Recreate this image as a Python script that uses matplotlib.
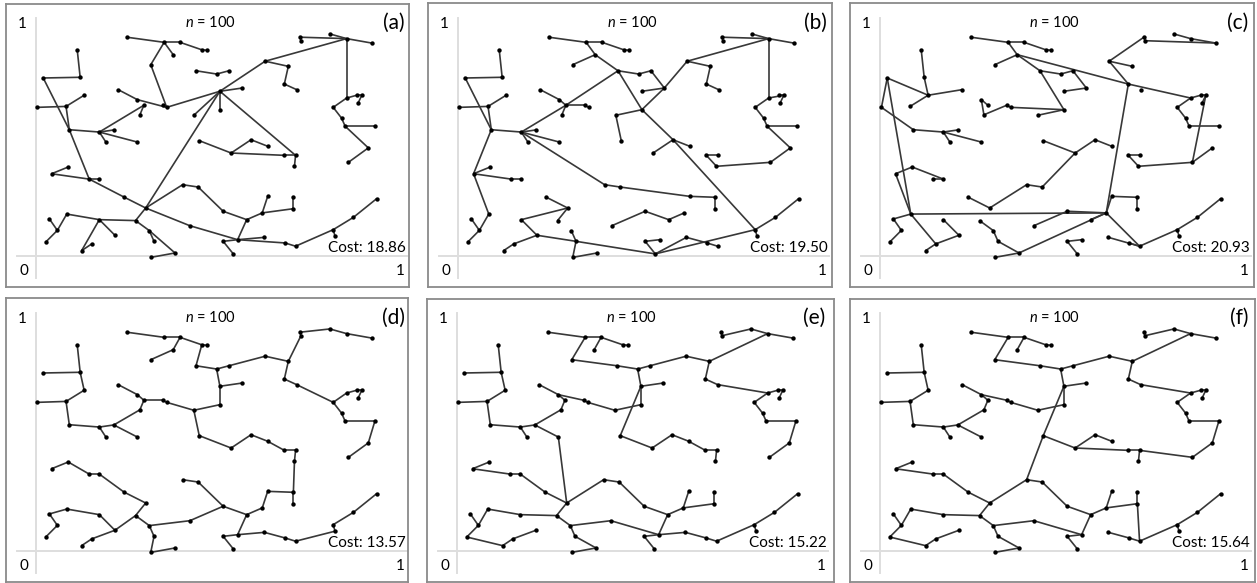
import matplotlib
matplotlib.use("Agg")
import matplotlib.pyplot as plt
from matplotlib.collections import LineCollection

plt.rcParams["font.family"] = ["Lato", "DejaVu Sans"]
plt.rcParams["mathtext.fontset"] = "custom"
plt.rcParams["mathtext.it"] = "Lato:italic"
plt.rcParams["mathtext.rm"] = "Lato"

# node positions in the unit square (same point set in every panel)
node_names = """P1 P2 P3 P4 P5 P6 P7 P8
Q1 Q2 Q3 Q4 Q5 Q6 Q7 Q8 Q9 Q10 Q11 Q12 Q13 Q14 Q15 Q16 Q17 Q18 Q19
R1 R2 R3 R4 R5 R6 R7 R8 R9 R10 R11 R12 R13 R14 R15 R16 R17 R18 R19 R20
S1 S2
T1 T2 T3 T4 T5 T6 T7 T8 T9 T10 T11 T12 T13 T14 T15 T16 T17 T18 T19 T20 T21
U1 U2 U3
V1 V2 V3 V4 V5 V6 V7 V8 V9 V10
W W2
X1 X2 X3 X4 X5 X6 X7 X8 X9 X10""".split()

node_x = [0.251, 0.354, 0.398, 0.458, 0.473, 0.379, 0.317, 0.442,
          0.114, 0.122, 0.020, 0.133, 0.083, 0.004, 0.092, 0.175, 0.193, 0.215, 0.280,
          0.287, 0.298, 0.280, 0.227, 0.350, 0.361, 0.436, 0.451,
          0.043, 0.089, 0.147, 0.175, 0.243, 0.303, 0.275, 0.218, 0.175, 0.085,
          0.037, 0.059, 0.027, 0.154, 0.126, 0.313, 0.425, 0.326, 0.317, 0.384,
          0.405, 0.448,
          0.499, 0.533, 0.633, 0.697, 0.732, 0.729, 0.812, 0.858, 0.927, 0.686,
          0.720, 0.821, 0.858, 0.886, 0.900, 0.890, 0.844, 0.854, 0.936, 0.918, 0.863,
          0.508, 0.570, 0.508,
          0.539, 0.594, 0.640, 0.686, 0.717, 0.714, 0.711, 0.711, 0.640, 0.625,
          0.517, 0.582,
          0.557, 0.631, 0.688, 0.717, 0.826, 0.821, 0.877, 0.941, 0.517, 0.545]

node_y = [0.939, 0.917, 0.917, 0.885, 0.883, 0.864, 0.821, 0.795,
          0.883, 0.767, 0.764, 0.690, 0.642, 0.638, 0.542, 0.532, 0.489, 0.541, 0.489,
          0.606, 0.647, 0.671, 0.714, 0.647, 0.638, 0.604, 0.495,
          0.353, 0.382, 0.330, 0.330, 0.253, 0.206, 0.152, 0.089, 0.156, 0.180,
          0.159, 0.110, 0.060, 0.052, 0.023, 0.109, 0.130, 0.063, -0.006, 0.013,
          0.306, 0.296,
          0.781, 0.795, 0.836, 0.814, 0.924, 0.939, 0.953, 0.933, 0.914, 0.738,
          0.714, 0.638, 0.678, 0.690, 0.690, 0.657, 0.592, 0.557, 0.557, 0.464, 0.402,
          0.707, 0.721, 0.628,
          0.442, 0.499, 0.471, 0.432, 0.432, 0.385, 0.252, 0.203, 0.256, 0.185,
          0.192, 0.156,
          0.070, 0.080, 0.056, 0.042, 0.085, 0.113, 0.166, 0.246, 0.063, 0.009]

panel_tags = ["(a)", "(b)", "(c)", "(d)", "(e)", "(f)"]
panel_costs = ["18.86", "19.50", "20.93", "13.57", "15.22", "15.64"]
n_points = 100

edges_a = """P1-P2 P2-P3 P3-P4 P4-P5 P2-P6 P2-P7 P7-Q17 Q15-Q14 Q14-Q17 Q16-Q17 Q17-U1
Q18-U1 Q1-Q2 Q2-Q3 Q3-Q7 Q7-R3 Q5-Q6 Q5-Q4 Q5-Q7 Q7-Q8 Q8-Q9 Q8-Q10 Q8-Q11 Q8-Q13
Q13-Q12 R1-R2 R1-R3 R3-R4 R3-R5 R5-R6 R6-R17 R17-X1 X1-X3 X3-X4 X4-X6 X6-X5 X6-X7
X7-X8 R6-U1 R6-S1 S1-S2 S2-W R10-R9 R9-R7 R7-R6 R9-R15 R15-R14 R9-R8 R10-R12 R12-R11
R12-R13 R7-R16 R16-R20 R20-R19 R16-R18 U1-U2 U1-U3 U1-T3 T3-T8 T3-T4 T4-T10 T10-T11
T8-T7 T8-T9 T8-T6 T6-T5 T8-T13 T13-T14 T14-T15 T15-T16 T13-T12 T12-T17 T17-T18
T18-T19 T18-T20 T20-T21 U1-V5 V5-V4 V4-V1 V1-V2 V2-V3 V5-V6 P8-T1 T1-T2 Q19-V1 W-W2
W2-V10 V10-V9 V10-V8 V8-V7 W2-X1 X1-X2 X1-X9 X9-X10""".split()

edges_b = """P1-P2 P2-P3 P3-P4 P4-P5 P2-P6 P6-P7 P6-P8 P8-Q13 P8-T1 Q13-Q14 Q14-Q15 Q13-Q16
Q16-Q17 Q13-Q12 Q13-Q8 Q8-Q10 Q8-Q9 Q8-Q11 Q8-Q7 Q8-S1 S1-S2 Q7-Q5 Q5-Q6 Q5-Q4 Q7-Q3
Q3-Q2 Q2-Q1 Q7-R1 R1-R2 R1-R3 R3-R4 R1-R10 R10-R12 R12-R11 R12-R13 R5-R6 R6-R7 R6-R9
R9-R8 R8-R14 R14-R15 R8-R18 R18-R16 R18-R19 R19-R20 R18-X10 Q18-Q19 Q18-U3 T1-T2
T2-U2 U2-U1 U3-U2 U2-T3 P8-U3 U3-V2 V2-X6 V2-V1 V2-V3 T3-T4 T4-T10 T10-T11 T3-T8
T8-T7 T8-T6 T6-T5 T8-T9 T8-T13 T13-T15 T15-T14 T15-T16 T13-T12 T12-T17 T17-T18
T18-T19 T18-T20 T20-T21 T21-V6 V6-V4 V4-V5 S2-V9 V9-V7 V7-V8 R17-W W-W2 W2-V10
X10-X9 X9-X1 X10-X2 X2-X3 X3-X4 X10-X6 X6-X5 X6-X7 X7-X8""".split()

edges_c = """P1-P2 P2-P3 P3-P4 P4-P5 P2-P6 P6-P7 P6-P8 P6-T10 T10-T13 P8-T1 T1-T2 T2-U2
U2-U1 P8-U3 Q18-U3 Q1-Q2 Q2-Q4 Q4-Q15 Q4-Q5 Q4-Q3 Q3-Q6 Q6-Q7 Q7-Q8 Q8-Q10 Q8-Q9
Q8-Q11 Q3-R10 Q14-Q13 Q14-Q12 Q12-Q16 Q16-Q17 Q17-U3 Q19-V1 V1-V2 V2-V3 S2-V1 S1-S2
R6-S1 R5-R6 R10-V10 R10-R11 R11-R12 R12-R13 R10-R14 R14-R15 R14-R8 R8-R9 R10-R1
R1-R2 R2-R4 R3-R4 R7-R16 R16-R18 R18-R20 R20-R19 R20-V10 R17-W W-V10 W2-V10 V10-V9
V9-V7 V7-V8 T10-V10 V10-X4 X4-X3 X4-X2 X4-X6 X6-X5 X6-X7 X7-X8 X9-X1 X9-X10 T13-T14
T14-T15 T15-T16 T15-T21 T21-T20 T21-V6 V6-V4 V4-V5 T13-T12 T12-T17 T17-T18 T18-T19
T3-T6 T6-T5 T5-T9 T7-T8 T8-T9 T3-T4 T3-T10""".split()

edges_d = """P1-P2 P2-P3 P3-P4 P4-P5 P3-P6 P6-P7 P4-P8 P8-T1 T1-T2 T2-T3 T3-T4 T4-T5 T5-T6
T6-T7 T7-T8 T8-T9 T4-T10 T10-T11 T11-T12 T12-T13 T13-T14 T14-T15 T15-T16 T12-T17
T17-T18 T18-T19 T19-T20 T20-T21 T1-U1 U1-U2 U1-U3 U3-Q18 Q1-Q2 Q3-Q2 Q2-Q4 Q4-Q5
Q5-Q6 Q5-Q7 Q7-Q8 Q8-Q9 Q8-Q10 Q10-Q11 Q10-Q12 Q12-Q13 Q13-Q14 Q14-Q15 Q13-Q16
Q16-Q17 Q17-Q18 Q18-Q19 Q19-V1 V1-V2 V2-V3 V3-V4 V4-V5 V5-V6 V6-V7 V7-V8 V7-V9
V9-V10 V10-W2 W2-W W-S2 S2-S1 W-R17 R17-R16 R16-R7 R7-R6 R6-R5 R5-R4 R4-R3 R3-R2
R2-R1 R7-R8 R8-R9 R9-R10 R10-R11 R11-R12 R12-R13 R8-R14 R14-R15 R16-R18 R18-R19
R19-R20 W2-X1 X1-X9 X9-X10 X1-X2 X2-X3 X3-X4 X4-X5 X5-X6 X6-X7 X7-X8""".split()

edges_e = """P1-P2 P2-P3 P3-P4 P4-P5 P3-P6 P2-P7 P7-P8 P8-T1 T1-T2 T2-T3 T3-T4 T4-T8 T8-T7
T7-T5 T5-T6 T8-T9 T4-T10 T10-T11 T11-T13 T13-T14 T14-T15 T15-T16 T13-T12 T12-T17
T17-T18 T18-T19 T19-T20 T20-T21 T1-U1 U1-U2 U1-U3 U3-Q18 U1-Q19 Q19-V1 V1-V2 V2-V3
V3-V4 V4-V5 V5-V6 Q15-Q14 Q14-Q16 Q16-Q17 Q17-Q18 Q14-Q13 Q13-Q12 Q12-Q10 Q10-Q8
Q8-Q9 Q8-Q7 Q7-Q5 Q5-Q6 Q5-Q4 Q4-Q2 Q2-Q3 Q2-Q1 Q10-Q11 Q11-R6 R6-R5 R5-R4 R4-R3
R3-R1 R1-R2 R6-S1 S1-S2 S2-W R6-R7 R7-R9 R9-R10 R10-R12 R12-R11 R12-R13 R13-R15
R15-R14 R14-R8 R7-R16 R16-R17 R16-R18 R18-R20 R20-R19 R17-X1 W-W2 W2-V10 V10-V9
V10-V8 V8-V7 W2-X1 X1-X9 X9-X10 X1-X2 X2-X3 X3-X4 X4-X6 X6-X5 X6-X7 X7-X8""".split()

edges_f = """P1-P2 P2-P3 P3-P4 P4-P5 P3-P6 P2-P7 P7-P8 P8-T1 T1-T2 T2-T3 T3-T4 T4-T8 T8-T7
T7-T5 T5-T6 T8-T9 T4-T10 T10-T11 T11-T13 T13-T14 T14-T15 T15-T16 T13-T12 T12-T17
T17-T18 T18-T19 T19-T20 T20-T21 T21-V5 V5-V4 V4-V1 V5-V6 V1-V2 V2-V3 Q19-V1 U1-Q19
Q19-S1 T1-U1 U1-U2 U1-U3 U3-Q18 Q15-Q14 Q14-Q13 Q13-Q12 Q12-Q10 Q10-Q8 Q8-Q9
Q10-Q11 Q14-Q16 Q16-Q17 Q17-Q18 Q8-Q7 Q7-Q5 Q5-Q6 Q5-Q4 Q4-Q2 Q2-Q3 Q2-Q1 S1-S2
S1-R6 R6-R5 R5-R4 R4-R3 R3-R1 R1-R2 R6-R7 R7-R9 R9-R10 R10-R12 R12-R11 R12-R13
R13-R15 R15-R14 R14-R8 R7-R16 R16-R17 R17-X1 R16-R18 R18-R20 R20-R19 S2-W W-W2
W2-V10 V10-V9 V10-V8 V8-V7 W2-X1 X1-X9 X9-X10 V8-X4 X2-X3 X3-X4 X4-X6 X6-X5 X6-X7
X7-X8""".split()

all_edges = [edges_a, edges_b, edges_c, edges_d, edges_e, edges_f]

pos = dict(zip(node_names, zip(node_x, node_y)))

# panel boxes in figure pixels: left, top, right, bottom
W, H = 1257, 583
boxes = [(6, 4, 409, 287), (428, 3, 832, 287), (850, 3, 1254, 287),
         (6, 298, 408, 582), (427, 299, 834, 582), (850, 299, 1255, 582)]
px_x, px_y = 362.0, 233.0   # pixels per unit

fig = plt.figure(figsize=(W / 100, H / 100), dpi=100)

for box, tag, cost, edges in zip(boxes, panel_tags, panel_costs, all_edges):
    x0, y0, x1, y1 = box
    ax = fig.add_axes([x0 / W, 1 - y1 / H, (x1 - x0) / W, (y1 - y0) / H])
    ax.set_xlim(-30 / px_x, -30 / px_x + (x1 - x0) / px_x)
    ax.set_ylim(-31 / px_y, -31 / px_y + (y1 - y0) / px_y)
    ax.set_xticks([])
    ax.set_yticks([])
    for s in ax.spines.values():
        s.set_color("#8a8a8a")
        s.set_linewidth(1.3)

    # light axis lines
    ax.plot([0, 0], [-0.095, 1.02], color="#dedede", lw=1.4, zorder=1)
    ax.plot([-0.052, 1.024], [0, 0], color="#dedede", lw=1.4, zorder=1)

    segs = [[pos[a], pos[b]] for a, b in (e.split("-") for e in edges)]
    ax.add_collection(LineCollection(segs, colors="#383838", linewidths=1.2, zorder=2))
    ax.scatter(node_x, node_y, s=10, color="black", linewidths=0, zorder=3)

    ax.text(0.483, 1.003, "$n$ = %d" % n_points, ha="center", va="center", fontsize=10.5)
    ax.text(1.018, 1.0, tag, ha="right", va="center", fontsize=15)
    ax.text(1.022, 0.036, "Cost: " + cost, ha="right", va="center", fontsize=11)
    ax.text(-0.039, 0.997, "1", ha="center", va="center", fontsize=11)
    ax.text(-0.032, -0.066, "0", ha="center", va="center", fontsize=11)
    ax.text(1.006, -0.066, "1", ha="center", va="center", fontsize=11)

fig.savefig("out.png", dpi=100)
